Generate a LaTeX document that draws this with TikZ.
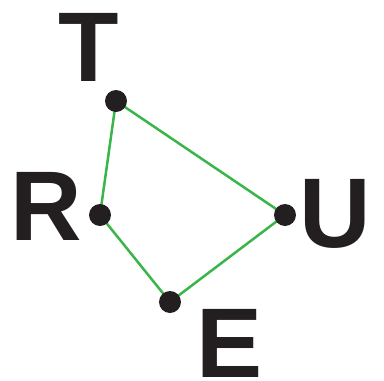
\documentclass[tikz,border=0pt]{standalone}
\usepackage{fontspec}
\setmainfont{Liberation Sans}
\usetikzlibrary{backgrounds}
\definecolor{ink}{HTML}{231F20}
\definecolor{grn}{HTML}{3AB54A}
\begin{document}
\begin{tikzpicture}[x=1pt,y=-1pt,
  letter/.style={inner sep=0pt,outer sep=0pt,anchor=base,text=ink,font=\fontsize{99}{99}\selectfont\bfseries},
  dot/.style={circle,fill=ink,minimum size=22pt,inner sep=0pt},
  edge/.style={draw=grn,line width=2.5pt}]
\useasboundingbox (0,0) rectangle (384,381);
\node[letter] (lt) at (89,81) {T};
\node[letter] (lr) at (46,240) {R};
\node[letter] (lu) at (335.5,247) {U};
\node[letter] (le) at (230,377.5) {E};
\node[dot] (t) at (116,101) {};
\node[dot] (r) at (100,215) {};
\node[dot] (u) at (285,215) {};
\node[dot] (e) at (170,302) {};
\begin{scope}[on background layer]
\draw[edge] (t.center) -- (r.center) -- (e.center) -- (u.center) -- (t.center);
\end{scope}
\end{tikzpicture}
\end{document}
